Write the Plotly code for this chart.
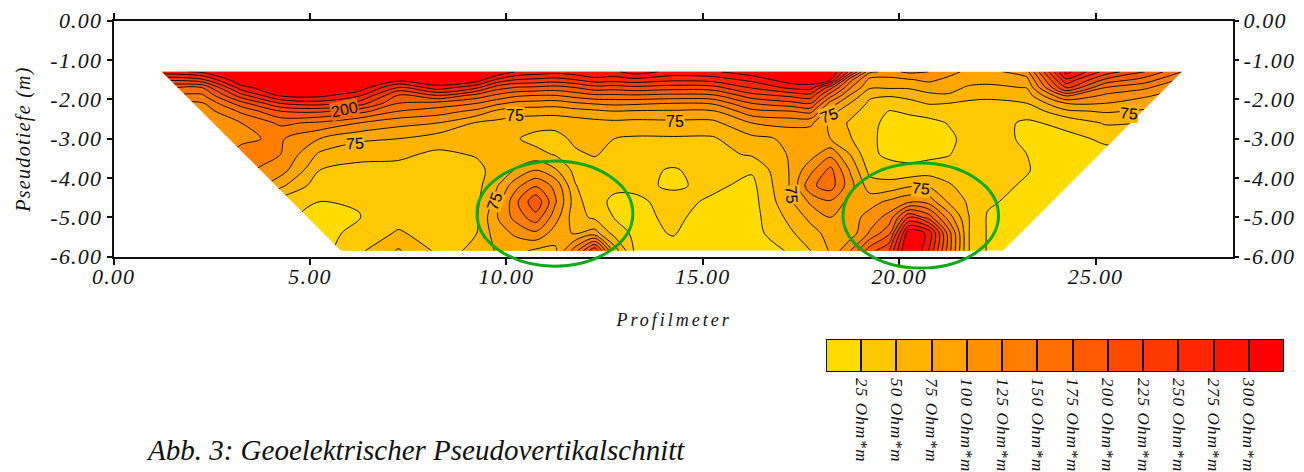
import plotly.graph_objects as go

W, H = 1304, 472
SERIF = "Liberation Serif"

# --- values -----------------------------------------------------------------
depths = [1.3, 1.5, 1.7, 1.9, 2.1, 2.3, 2.6, 3.0, 3.4, 3.8, 4.2, 4.6, 5.0, 5.4, 5.85]
profile_m = [1.23, 2.25, 3.25, 4.25, 5.25, 6.25, 7.25, 8.25, 9.25, 9.75, 10.25, 10.75,
             11.25, 11.75, 12.25, 12.75, 13.25, 14.25, 15.25, 16.25, 17.25, 17.75,
             18.25, 18.75, 19.25, 19.75, 20.25, 20.75, 21.25, 21.75, 22.25, 23.25,
             24.25, 25.25, 26.25, 27.2]
# one list per profile position, top to bottom (Ohm*m)
resistivity_columns = [
    [290, 230, 180, 150, 125, 112, 110, 110, 110, 110, 110, 110, 110, 110, 110],
    [305, 245, 175, 145, 122, 110, 108, 110, 112, 115, 115, 115, 115, 115, 115],
    [340, 325, 290, 240, 190, 155, 125, 122, 130, 132, 130, 125, 122, 122, 122],
    [360, 345, 325, 305, 250, 200, 155, 128, 125, 112, 80, 40, 30, 30, 30],
    [360, 350, 330, 308, 262, 205, 145, 100, 70, 50, 35, 25, 18, 15, 15],
    [360, 340, 318, 280, 238, 185, 125, 80, 57, 43, 34, 27, 24, 33, 45],
    [340, 312, 245, 198, 175, 150, 108, 75, 55, 42, 38, 36, 40, 53, 78],
    [345, 325, 290, 225, 165, 138, 100, 62, 45, 38, 35, 32, 32, 38, 45],
    [345, 315, 255, 190, 150, 118, 72, 62, 52, 44, 42, 45, 48, 50, 53],
    [325, 272, 212, 170, 132, 95, 68, 60, 56, 58, 72, 85, 98, 88, 78],
    [298, 250, 198, 155, 118, 85, 64, 52, 58, 78, 118, 145, 135, 105, 82],
    [290, 245, 195, 150, 115, 85, 60, 42, 58, 100, 148, 195, 165, 120, 70],
    [285, 240, 190, 150, 112, 85, 58, 42, 48, 78, 118, 128, 110, 88, 70],
    [290, 250, 200, 160, 122, 90, 62, 55, 46, 42, 52, 62, 60, 72, 140],
    [300, 265, 215, 170, 128, 95, 66, 62, 52, 38, 30, 30, 45, 85, 225],
    [295, 262, 212, 170, 132, 100, 68, 50, 42, 35, 28, 22, 24, 40, 90],
    [312, 268, 218, 172, 130, 98, 66, 47, 40, 34, 30, 20, 18, 20, 24],
    [292, 257, 212, 168, 125, 97, 68, 47, 40, 22, 22, 33, 30, 26, 20],
    [295, 262, 215, 170, 128, 97, 68, 47, 42, 38, 30, 21, 15, 15, 15],
    [318, 282, 253, 215, 175, 142, 100, 68, 53, 28, 18, 15, 15, 15, 15],
    [338, 318, 282, 232, 192, 150, 108, 80, 78, 78, 78, 72, 58, 47, 27],
    [340, 322, 285, 240, 200, 158, 105, 82, 90, 118, 145, 105, 82, 65, 50],
    [330, 305, 210, 160, 115, 85, 70, 75, 118, 158, 162, 122, 100, 85, 78],
    [240, 160, 128, 98, 75, 60, 46, 52, 75, 98, 110, 92, 88, 85, 125],
    [130, 92, 78, 55, 45, 38, 32, 30, 30, 42, 62, 90, 110, 128, 190],
    [118, 92, 78, 52, 38, 24, 18, 17, 20, 35, 60, 105, 135, 170, 225],
    [130, 98, 78, 58, 42, 28, 18, 15, 17, 32, 72, 120, 225, 320, 345],
    [125, 105, 88, 68, 52, 35, 18, 15, 18, 38, 72, 115, 190, 295, 275],
    [108, 95, 85, 72, 50, 40, 26, 20, 24, 33, 55, 72, 115, 165, 165],
    [95, 85, 72, 58, 46, 40, 35, 32, 32, 33, 36, 47, 52, 52, 52],
    [90, 82, 70, 56, 44, 37, 33, 30, 30, 30, 30, 28, 23, 23, 23],
    [115, 92, 76, 62, 50, 33, 22, 23, 25, 26, 23, 18, 15, 15, 15],
    [310, 270, 230, 155, 100, 70, 30, 20, 15, 15, 15, 15, 15, 15, 15],
    [240, 195, 150, 120, 100, 78, 53, 28, 20, 15, 15, 15, 15, 15, 15],
    [200, 165, 130, 105, 85, 72, 50, 30, 20, 15, 15, 15, 15, 15, 15],
    [150, 120, 100, 85, 70, 60, 50, 30, 20, 15, 15, 15, 15, 15, 15],
]

class_colors = ["#FFDB00", "#FFC800", "#FFB400", "#FFA500", "#FF9100", "#FF7D00", "#FF6E00",
                "#FF5A00", "#FF4800", "#FF3800", "#FF2600", "#FF1400", "#FF0000"]
class_labels = ["25 Ohm*m", "50 Ohm*m", "75 Ohm*m", "100 Ohm*m", "125 Ohm*m", "150 Ohm*m",
                "175 Ohm*m", "200 Ohm*m", "225 Ohm*m", "250 Ohm*m", "275 Ohm*m", "300 Ohm*m"]
x_tick_vals = [0, 5, 10, 15, 20, 25]
x_tick_text = ["0.00", "5.00", "10.00", "15.00", "20.00", "25.00"]
y_tick_vals = [0, -1, -2, -3, -4, -5, -6]
y_tick_text = ["0.00", "-1.00", "-2.00", "-3.00", "-4.00", "-5.00", "-6.00"]

contour_labels = [
    ("200", 5.88, -2.25, -12, "#FF6A00"), ("75", 6.15, -3.12, -3, "#FFB400"),
    ("75", 9.70, -4.60, -70, "#FFB000"), ("75", 10.22, -2.42, 0, "#FFB000"),
    ("75", 14.30, -2.57, 0, "#FFB000"), ("75", 18.22, -2.40, -20, "#FFB000"),
    ("75", 17.25, -4.43, 85, "#FFB400"), ("75", 20.56, -4.26, 5, "#FFB400"),
    ("75", 25.85, -2.36, 5, "#FFB000"),
]
left_mask = [(1.2, -1.27), (5.79, -5.85), (5.79, -5.9), (1.2, -5.9)]
right_mask = [(27.25, -1.25), (22.64, -5.85), (22.64, -5.9), (27.25, -5.9)]
# ellipses: x0, x1, y0, y1 in chart units
ellipses = [(9.25, 13.22, -3.57, -6.24), (18.57, 22.53, -3.62, -6.29)]

# --- layout geometry --------------------------------------------------------
XL, XR, YT, YB = 113.6, 1233.0, 20.7, 256.7
X_RANGE = [0, 28.5]
Y_RANGE = [-6, 0]


def px(x):
    return (XL + (x - X_RANGE[0]) / (X_RANGE[1] - X_RANGE[0]) * (XR - XL)) / W


def py(y):
    return 1 - (YT + (Y_RANGE[1] - y) / (Y_RANGE[1] - Y_RANGE[0]) * (YB - YT)) / H


rows = [[col[i] for col in resistivity_columns] for i in range(len(depths))]
fig = go.Figure()
fig.add_trace(go.Contour(
    x=profile_m, y=[-d for d in depths][::-1], z=rows[::-1],
    autocontour=False,
    contours=dict(start=25, end=300, size=25, coloring="fill", showlines=True),
    colorscale=[[i / 12, c] for i, c in enumerate(class_colors)],
    line=dict(color="#111111", width=1, smoothing=0.9),
    showscale=False, hoverinfo="skip",
))
fig.add_trace(go.Scatter(x=[0], y=[0], yaxis="y2", mode="markers", marker=dict(opacity=0),
                         showlegend=False, hoverinfo="skip"))
fig.add_trace(go.Bar(x=list(range(13)), y=[1] * 13, width=1, xaxis="x3", yaxis="y3",
                     marker=dict(color=class_colors, line=dict(color="#111111", width=2)),
                     showlegend=False, hoverinfo="skip"))


def poly(points):
    return "M " + " L ".join(f"{a},{b}" for a, b in points) + " Z"


shapes = [dict(type="path", path=poly(m), xref="x", yref="y", fillcolor="white",
               line=dict(width=0), layer="above") for m in (left_mask, right_mask)]
for x0, x1, y0, y1 in ellipses:
    shapes.append(dict(type="circle", xref="paper", yref="paper", x0=px(x0), x1=px(x1),
                       y0=py(y0), y1=py(y1), line=dict(color="#0BAA16", width=3),
                       fillcolor="rgba(0,0,0,0)", layer="above"))

annotations = [
    dict(text="Profilmeter", xref="paper", yref="paper", x=674 / W, y=1 - 320 / H, showarrow=False,
         xanchor="center", yanchor="middle", font=dict(family=SERIF, size=18, color="#111", style="italic")),
    dict(text="Pseudotiefe (m)", xref="paper", yref="paper", x=23 / W, y=1 - 140 / H, showarrow=False,
         textangle=-90, xanchor="center", yanchor="middle",
         font=dict(family=SERIF, size=20, color="#111", style="italic")),
    dict(text="Abb. 3: Geoelektrischer Pseudovertikalschnitt", xref="paper", yref="paper",
         x=144 / W, y=1 - 450 / H, showarrow=False, xanchor="left", yanchor="middle",
         font=dict(family=SERIF, size=29, color="#111", style="italic")),
]
for text, x, y, angle, bg in contour_labels:
    annotations.append(dict(text=text, x=x, y=y, xref="x", yref="y", showarrow=False, textangle=angle,
                            bgcolor=bg, borderpad=0,
                            font=dict(family="Liberation Sans", size=16, color="#000")))

tick_font = dict(family=SERIF, size=22, color="#111", style="italic")
fig.update_layout(
    width=W, height=H, autosize=False, margin=dict(l=0, r=0, t=0, b=0, autoexpand=False),
    paper_bgcolor="white", plot_bgcolor="white", showlegend=False,
    shapes=shapes, annotations=annotations, bargap=0,
    xaxis=dict(domain=[XL / W, XR / W], range=X_RANGE, tickvals=x_tick_vals, ticktext=x_tick_text,
               ticks="outside", ticklen=6, tickwidth=1.5, tickcolor="#111", linecolor="#111", linewidth=2,
               mirror="allticks", showgrid=False, zeroline=False, tickfont=tick_font, tickangle=0,
               ticklabelstandoff=-7),
    yaxis=dict(domain=[1 - YB / H, 1 - YT / H], range=Y_RANGE, tickvals=y_tick_vals, ticktext=y_tick_text,
               ticks="outside", ticklen=5, tickwidth=1.5, tickcolor="#111", linecolor="#111", linewidth=2,
               mirror=True, showgrid=False, zeroline=False, tickfont=tick_font),
    yaxis2=dict(range=Y_RANGE, overlaying="y", side="right", anchor="x", tickvals=y_tick_vals,
                ticktext=y_tick_text, ticks="outside", ticklen=5, tickwidth=1.5, tickcolor="#111",
                showline=False, showgrid=False, zeroline=False, tickfont=tick_font),
    xaxis3=dict(domain=[826 / W, 1284 / W], range=[-0.5, 12.5], anchor="y3",
                tickvals=[i + 0.5 for i in range(12)], ticktext=class_labels, tickangle=90, ticks="",
                showline=False, showgrid=False, zeroline=False, ticklabelstandoff=5,
                tickfont=dict(family=SERIF, size=17, color="#111", style="italic")),
    yaxis3=dict(domain=[1 - 372 / H, 1 - 339 / H], range=[0, 1], anchor="x3", visible=False),
)

spacing_js = """
document.documentElement.style.margin='0';document.body.style.margin='0';
const set=(sel,v)=>document.querySelectorAll(sel).forEach(e=>{e.style.letterSpacing=v;});
set('.xtick text','1.2px');set('.ytick text','1.2px');set('.y2tick text','1.2px');set('.x3tick text','1.2px');
document.querySelectorAll('.annotation-text').forEach(e=>{
 if(e.textContent==='Profilmeter')e.style.letterSpacing='3px';
 if(e.textContent==='Pseudotiefe (m)')e.style.letterSpacing='1.3px';});
"""
fig.write_html("out.html", post_script=spacing_js, config=dict(displayModeBar=False))
